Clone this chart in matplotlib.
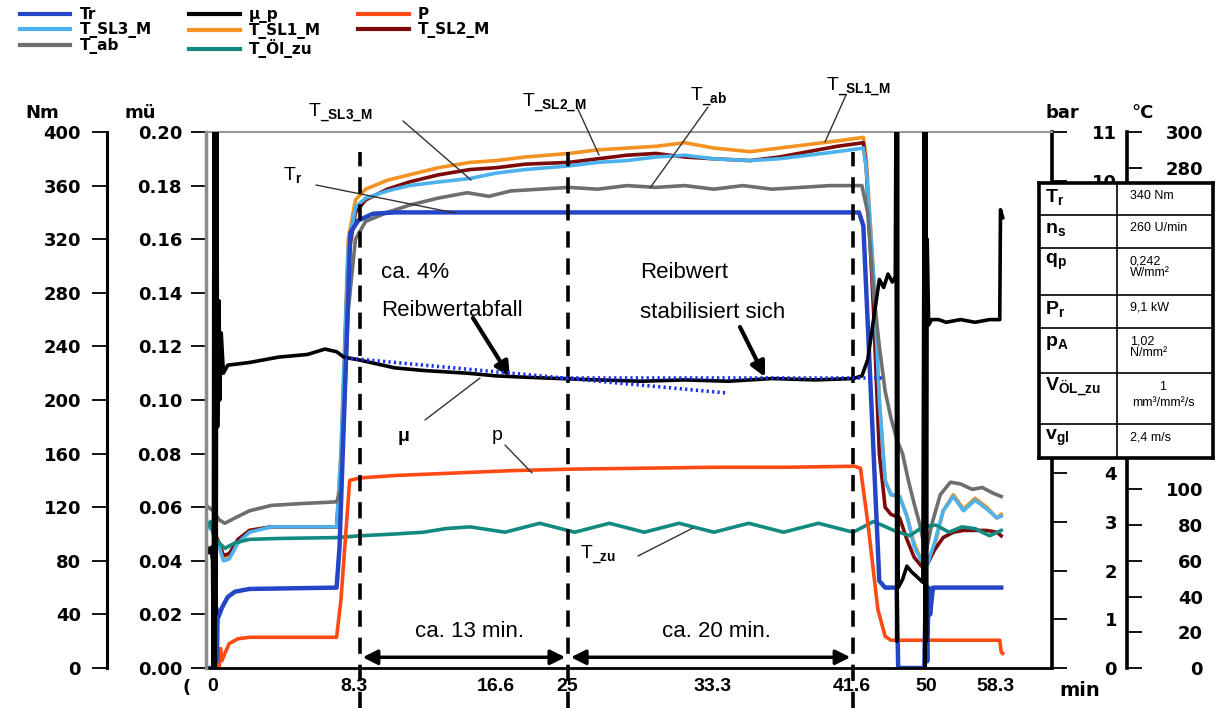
import matplotlib.pyplot as plt

W, H = 1216, 708
PT = 0.72  # px -> pt at dpi 100

# ---- series (time in min) ----
tr_t = [0, 0.65, 0.7, 0.75, 0.8, 0.85, 1.1, 1.5, 2.0, 3.0, 9.0, 9.2, 9.95, 10.5, 11.5, 13.0,
        45.0, 45.3, 46.4, 46.8, 47.6, 47.7, 49.5, 49.6, 49.7, 49.8, 49.9, 50.1, 54.8]
tr_nm = [0, 0, 45, 5, 40, 38, 45, 53, 57, 59, 60, 90, 325, 334, 339, 340,
         340, 330, 65, 60, 60, 0, 0, 60, 5, 60, 40, 60, 60]

mu_t = [0, 0.2, 0.35, 0.45, 0.5, 0.55, 0.6, 0.65, 0.7, 0.75, 0.8, 0.9, 0.95, 1.05, 1.2, 1.5,
        3, 5, 7, 8.2, 9.0, 9.5, 10.5, 13, 15, 18, 20, 22, 24.4, 27, 30, 33, 36, 39, 42, 44.6,
        45.2, 45.6, 46.0, 46.4, 46.7, 47.0, 47.3, 47.5, 47.55, 47.6, 47.65, 47.7, 48.0, 48.3,
        48.6, 49.0, 49.4, 49.5, 49.55, 49.6, 49.65, 49.7, 49.8, 50.0, 50.5, 51, 52, 53, 54,
        54.7, 54.75, 54.9]
mu_val = [0.046, 0.043, 0.045, 0.040, 0.0, 0.21, 0.0, 0.21, 0.02, 0.2, 0.09, 0.137, 0.1, 0.125,
          0.11, 0.113, 0.114, 0.116, 0.117, 0.119, 0.118, 0.116, 0.115, 0.112, 0.111, 0.110,
          0.109, 0.1085, 0.108, 0.1075, 0.107, 0.1075, 0.107, 0.108, 0.1075, 0.108, 0.109,
          0.115, 0.13, 0.145, 0.142, 0.147, 0.144, 0.146, 0.21, 0.01, 0.21, 0.03, 0.033, 0.038,
          0.036, 0.034, 0.032, 0.21, 0.0, 0.21, 0.01, 0.16, 0.128, 0.13, 0.13, 0.129, 0.13,
          0.129, 0.13, 0.13, 0.171, 0.168]

p_t = [0, 0.9, 1.0, 1.1, 1.3, 1.6, 2.2, 3.0, 9.0, 9.3, 9.9, 10.6, 13, 17, 21, 25, 30, 35, 40,
       44.7, 45.1, 45.6, 46.3, 46.8, 47.2, 50, 54.7, 54.8, 54.9]
p_bar = [0, 0, 0.4, 0.15, 0.3, 0.5, 0.6, 0.63, 0.63, 1.4, 3.85, 3.9, 3.95, 4.0, 4.05, 4.08,
         4.1, 4.12, 4.12, 4.14, 4.1, 3.0, 1.2, 0.65, 0.57, 0.57, 0.57, 0.33, 0.3]

temp_t = [0, 0.5, 0.9, 1.2, 1.6, 2.2, 3.0, 4.5, 9.0, 9.3, 9.8, 10.3, 11, 12.5, 14, 16, 18.2,
          20, 22, 25, 27, 29, 31, 33, 35, 37.5, 39.5, 41.5, 43.5, 45.3, 45.5, 46.0, 46.4,
          46.8, 47.2, 47.8, 48.3, 48.8, 49.3, 49.7, 50.2, 50.8, 51.5, 52.2, 53.0, 53.8, 54.5,
          54.8]
t_sl1 = [80, 78, 70, 62, 62, 70, 77, 79, 79, 120, 240, 262, 268, 273, 276, 280, 283, 284, 286,
         288, 290, 291, 292, 294, 291, 289, 291, 293, 295, 297, 285, 220, 150, 105, 97, 96, 85,
         70, 60, 58, 68, 88, 97, 89, 95, 90, 84, 86]
t_sl3 = [80, 77, 68, 60, 61, 70, 76, 79, 79, 120, 235, 258, 263, 267, 270, 272, 274, 277, 279,
         281, 283, 284, 286, 287, 285, 284, 285, 287, 289, 291, 280, 220, 150, 105, 97, 96, 85,
         68, 60, 58, 70, 88, 96, 88, 94, 89, 84, 85]
t_sl2 = [80, 77, 70, 63, 64, 72, 77, 79, 79, 110, 230, 255, 262, 268, 272, 276, 279, 280, 282,
         283, 285, 287, 288, 286, 285, 284, 286, 289, 292, 294, 280, 200, 120, 90, 86, 84, 72,
         62, 57, 58, 66, 73, 76, 77, 77, 77, 76, 74]

tab_t = [0, 0.5, 0.9, 1.3, 2.0, 3.0, 4.5, 6.5, 9.0, 9.3, 9.8, 10.3, 11, 12.5, 14, 16, 18, 19.5,
         21, 23, 25, 27, 29, 31, 33, 35, 37, 39, 41, 43, 45.2, 45.6, 46.0, 46.4, 46.8, 47.2,
         47.6, 48.0, 48.4, 48.8, 49.2, 49.6, 50.0, 50.6, 51.3, 52.0, 52.8, 53.5, 54.2, 54.8]
t_ab = [91, 88, 83, 81, 84, 88, 91, 92, 93, 100, 200, 240, 250, 255, 259, 263, 266, 264, 267,
        268, 269, 268, 270, 269, 270, 268, 270, 268, 269, 270, 270, 255, 210, 180, 155, 140,
        128, 120, 105, 92, 80, 64, 80, 97, 104, 103, 100, 101, 98, 96]

oil_t = [0, 0.3, 0.5, 0.9, 1.3, 2.0, 3.0, 5, 9.0, 10.6, 13, 15, 16.5, 18.2, 20.6, 23.0, 25.4,
         27.8, 30.2, 32.6, 35.0, 37.4, 39.8, 42.2, 44.6, 46.0, 47.4, 48.5, 49.4, 50.3, 51.2,
         52.1, 53.0, 54.0, 54.8]
t_oil = [78, 82, 75, 70, 67, 70, 72, 72.5, 73, 74, 75, 76, 78, 79, 76, 81, 76, 81, 76, 81, 76,
         81, 76, 81, 76, 82, 77, 74, 79, 80, 76, 79, 78, 74, 77]

# linear trend of the friction value (dotted)
trend1_t = [9.6, 35.9]
trend1_mu = [0.1157, 0.1026]
trend2_t = [24.4, 46.8]
trend2_mu = [0.1082, 0.1082]

phase_t = [10.6, 24.95, 44.6]
phase_text = ['ca. 13 min.', 'ca. 20 min.']

xtick_pos = [0.45, 10.2, 20.0, 24.9, 34.9, 44.5, 49.6, 54.4]
xtick_lab = ['0', '8.3', '16.6', '25', '33.3', '41.6', '50', '58.3']

nm_ticks = list(range(0, 401, 40))
mu_ticks = [0.0, 0.02, 0.04, 0.06, 0.08, 0.10, 0.12, 0.14, 0.16, 0.18, 0.20]
bar_ticks = list(range(0, 12))
c_ticks = list(range(0, 301, 20))
# labels hidden behind the parameter table
bar_hidden = [5, 6, 7, 8, 9]
c_hidden = [120, 140, 160, 180, 200, 220, 240, 260]

tab_keys = [r'$\mathbf{T}_{\mathbf{r}}$', r'$\mathbf{n}_{\mathbf{s}}$', r'$\mathbf{q}_{\mathbf{p}}$',
            r'$\mathbf{P}_{\mathbf{r}}$', r'$\mathbf{p}_{\mathbf{A}}$',
            r'$\mathbf{V}_{\mathbf{ÖL\_zu}}$', r'$\mathbf{v}_{\mathbf{gl}}$']
tab_vals = ['340 Nm', '260 U/min', '0,242\nW/mm²', '9,1 kW', '1,02\nN/mm²',
            '1\nmm³/mm²/s', '2,4 m/s']

colors = dict(tr='#2446c6', mu='black', p='#ff4a14', sl3='#4cb2ee', sl1='#f49222',
              sl2='#7c0a0a', ab='#6e6e6e', oil='#138a80')

plt.rcParams['font.family'] = ['DejaVu Sans']
plt.rcParams['mathtext.fontset'] = 'custom'
plt.rcParams['mathtext.rm'] = 'Liberation Sans'
plt.rcParams['mathtext.bf'] = 'Liberation Sans:bold'
plt.rcParams['mathtext.it'] = 'Liberation Sans:italic'

fig = plt.figure(figsize=(W / 100, H / 100), dpi=100)
L, R, T, B = 206, 1052, 132, 668
rect = [L / W, 1 - B / H, (R - L) / W, (B - T) / H]
ax = fig.add_axes(rect)
ax_mu = ax.twinx()
ax_bar = ax.twinx()
ax_c = ax.twinx()
for a in (ax, ax_mu, ax_bar, ax_c):
    for s in a.spines.values():
        s.set_visible(False)
    a.patch.set_visible(False)
ax_c.set_zorder(1)
ax_bar.set_zorder(2)
ax.set_zorder(3)
ax_mu.set_zorder(4)

lw = 2.6
l_sl1, = ax_c.plot(temp_t, t_sl1, color=colors['sl1'], lw=lw)
l_sl2, = ax_c.plot(temp_t, t_sl2, color=colors['sl2'], lw=lw)
l_sl3, = ax_c.plot(temp_t, t_sl3, color=colors['sl3'], lw=lw)
l_ab, = ax_c.plot(tab_t, t_ab, color=colors['ab'], lw=lw)
l_oil, = ax_c.plot(oil_t, t_oil, color=colors['oil'], lw=lw)
l_p, = ax_bar.plot(p_t, p_bar, color=colors['p'], lw=lw)
l_tr, = ax.plot(tr_t, tr_nm, color=colors['tr'], lw=3.2)
l_mu, = ax_mu.plot(mu_t, mu_val, color=colors['mu'], lw=2.6)
ax_mu.plot(trend1_t, trend1_mu, color='#1a2ee8', lw=2.6, ls=(0, (0.6, 0.9)))
ax_mu.plot(trend2_t, trend2_mu, color='#1a2ee8', lw=2.6, ls=(0, (0.6, 0.9)))

ax.set_xlim(0, 58.3)
ax.set_ylim(0, 400)
ax_mu.set_ylim(0, 0.2)
ax_bar.set_ylim(0, 11)
ax_c.set_ylim(0, 300)

# spines
ax.spines['left'].set_visible(True)
ax.spines['left'].set_position(('outward', 99 * PT))
ax.spines['left'].set_linewidth(2.2)
ax.spines['bottom'].set_visible(True)
ax.spines['bottom'].set_linewidth(2.0)
ax.spines['top'].set_visible(True)
ax.spines['top'].set_color('#999999')
ax.spines['top'].set_linewidth(1.5)
ax_mu.spines['left'].set_visible(True)
ax_mu.spines['left'].set_color('#8c8c8c')
ax_mu.spines['left'].set_linewidth(2.5)
ax_bar.spines['right'].set_visible(True)
ax_bar.spines['right'].set_linewidth(2.6)
ax_c.spines['right'].set_visible(True)
ax_c.spines['right'].set_position(('outward', 75 * PT))
ax_c.spines['right'].set_linewidth(2.6)

tick_font = dict(fontsize=13, fontweight='bold', family='DejaVu Sans')
ax.set_yticks(nm_ticks, [str(v) for v in nm_ticks], **tick_font)
ax.tick_params(axis='y', direction='out', length=15 * PT, width=1.3, pad=11 * PT)
ax_mu.yaxis.set_ticks_position('left')
ax_mu.set_yticks(mu_ticks, ['%.2f' % v for v in mu_ticks], **tick_font)
ax_mu.tick_params(axis='y', direction='out', length=15 * PT, width=1.3, pad=9 * PT,
                  left=True, right=False, labelleft=True, labelright=False)
ax_bar.set_yticks(bar_ticks, ['' if v in bar_hidden else str(v) for v in bar_ticks],
                  **tick_font)
ax_bar.tick_params(axis='y', direction='out', length=15 * PT, width=1.3, pad=50 * PT)
ax_c.set_yticks(c_ticks, ['' if v in c_hidden else str(v) for v in c_ticks], **tick_font)
ax_c.tick_params(axis='y', direction='out', length=15 * PT, width=1.3, pad=61 * PT)
plt.setp(ax_bar.get_yticklabels(), ha='right')
plt.setp(ax_c.get_yticklabels(), ha='right')

ax.set_xticks(xtick_pos, xtick_lab, fontsize=14, fontweight='bold',
              family=['Liberation Sans Narrow', 'Liberation Sans'])
ax.tick_params(axis='x', length=0, pad=7)

# unit labels
unit_font = dict(fontsize=13, fontweight='bold', ha='center', va='center')
fig.text(42 / W, 1 - 113 / H, 'Nm', **unit_font)
fig.text(140 / W, 1 - 113 / H, 'mü', **unit_font)
fig.text(1062 / W, 1 - 113 / H, 'bar', **unit_font)
fig.text(1143 / W, 1 - 113 / H, '°C', **unit_font)
fig.text(1080 / W, 1 - 690 / H, 'min', fontsize=14, fontweight='bold', ha='center', va='center')
fig.text(187 / W, 1 - 688 / H, '(', fontsize=13, fontweight='bold', ha='center', va='center')

# phase boundaries and durations
for pt in phase_t:
    ax.plot([pt, pt], [-30, 385], color='black', lw=2.6, ls=(0, (4.5, 3)), clip_on=False,
            zorder=5)
for i, txt in enumerate(phase_text):
    ax.annotate('', xy=(phase_t[i + 1], 8), xytext=(phase_t[i], 8),
                arrowprops=dict(arrowstyle='<|-|>', color='black', lw=2.5, mutation_scale=22,
                                shrinkA=2, shrinkB=2))
    ax.text((phase_t[i] + phase_t[i + 1]) / 2 + 0.4, 27, txt, fontsize=16,
            family='Liberation Sans', ha='center', va='center')

# notes inside the plot
note = dict(fontsize=16, family='Liberation Sans', ha='left', va='center',
            xycoords='figure pixels', textcoords='figure pixels')
ax.annotate('ca. 4%', xy=(381, H - 272), **note)
ax.annotate('Reibwertabfall', xy=(381, H - 310), **note)
ax.annotate('Reibwert', xy=(640, H - 272), **note)
ax.annotate('stabilisiert sich', xy=(640, H - 313), **note)
big_arrow = dict(arrowstyle='-|>', color='black', lw=3, mutation_scale=22, shrinkA=0, shrinkB=0)
ax.annotate('', xy=(510, H - 377), xytext=(473, H - 318), xycoords='figure pixels',
            textcoords='figure pixels', arrowprops=big_arrow)
ax.annotate('', xy=(765, H - 377), xytext=(740, H - 327), xycoords='figure pixels',
            textcoords='figure pixels', arrowprops=big_arrow)

# curve labels with leader lines
leaders = [
    ('T$_{\\mathbf{\\_SL3\\_M}}$', (308, 113), (403, 121), (471, 180)),
    ('T$_{\\mathbf{\\_SL2\\_M}}$', (522, 103), (577, 107), (599, 155)),
    ('T$_{\\mathbf{\\_ab}}$', (690, 97), (708, 107), (650, 188)),
    ('T$_{\\mathbf{\\_SL1\\_M}}$', (826, 87), (846, 95), (825, 142)),
    ('T$_{\\mathbf{r}}$', (283, 175), (316, 185), (455, 213)),
    ('μ', (398, 437), (425, 420), (480, 378)),
    ('p', (492, 435), (505, 445), (532, 473)),
    ('T$_{\\mathbf{\\_zu}}$', (580, 555), (638, 556), (693, 528)),
]
for txt, pos, a0, a1 in leaders:
    fw = 'bold' if txt == 'μ' else 'normal'
    fig.text(pos[0] / W, 1 - pos[1] / H, txt, fontsize=14, family='Liberation Sans',
             fontweight=fw, ha='left', va='center')
    ax.annotate('', xy=(a1[0], H - a1[1]), xytext=(a0[0], H - a0[1]),
                xycoords='figure pixels', textcoords='figure pixels',
                arrowprops=dict(arrowstyle='-', color='#333333', lw=1.0, shrinkA=0, shrinkB=0))

# legend
handles = [l_tr, l_sl3, l_ab, l_mu, l_sl1, l_oil, l_p, l_sl2]
labels = ['Tr', 'T_SL3_M', 'T_ab', 'μ_p', 'T_SL1_M', 'T_Öl_zu', 'P', 'T_SL2_M']
leg = fig.legend(handles, labels, ncol=3, loc='upper left', bbox_to_anchor=(20 / W, 1 - 7 / H),
                 frameon=False, prop=dict(size=11, weight='bold'), handlelength=3.3,
                 handletextpad=0.6, columnspacing=2.45, labelspacing=0.0, borderpad=0,
                 borderaxespad=0)
for ln in leg.get_lines():
    ln.set_linewidth(3)

# parameter table
rows = [183, 215, 248, 295, 328, 373, 424, 458]
tx0, tx1, tmid = 1039, 1213, 1117
tab = fig.add_axes([tx0 / W, 1 - rows[-1] / H, (tx1 - tx0) / W, (rows[-1] - rows[0]) / H])
tab.set_zorder(10)
tab.set_xlim(tx0, tx1)
tab.set_ylim(rows[-1], rows[0])
tab.set_xticks([])
tab.set_yticks([])
for s in tab.spines.values():
    s.set_linewidth(2.6)
tab.plot([tmid, tmid], [rows[0], rows[-1]], color='black', lw=1.2)
for yb in rows[1:-1]:
    tab.plot([tx0, tx1], [yb, yb], color='black', lw=1.2)
for i, (k, v) in enumerate(zip(tab_keys, tab_vals)):
    top = rows[i]
    tab.text(1045, top + 14, k, fontsize=14, ha='left', va='center')
    if i == 5:
        tab.text(1163, top + 8, v, fontsize=9, family='Liberation Sans', ha='center',
                 va='top', multialignment='center', linespacing=1.5)
    else:
        tab.text(1130, top + 7, v, fontsize=9, family='Liberation Sans', ha='left', va='top',
                 linespacing=1.0)

fig.savefig('out.png', dpi=100, facecolor='white')
